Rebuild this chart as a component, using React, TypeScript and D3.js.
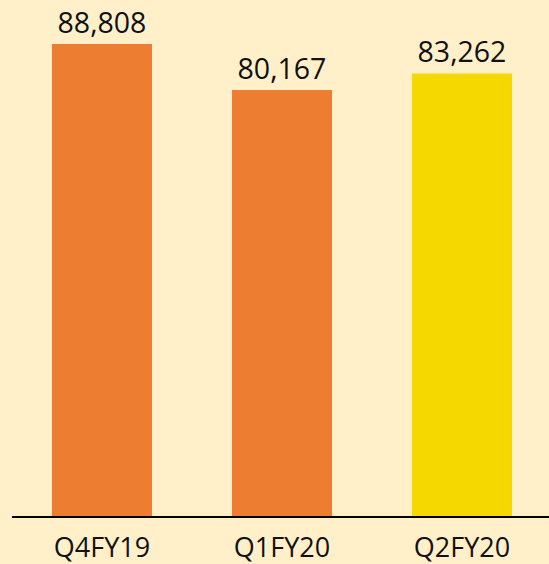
import React from "react";
import * as d3 from "d3";

const categories = ["Q4FY19", "Q1FY20", "Q2FY20"];
const values = [88808, 80167, 83262];
const barColors = ["#ED7D31", "#ED7D31", "#F5D800"];

const width = 549;
const height = 564;
const baseline = 517;

const App = () => {
  const xScale = d3
    .scaleBand<string>()
    .domain(categories)
    .range([12, 552])
    .paddingInner(4 / 9)
    .paddingOuter(2 / 9);

  const yScale = d3
    .scaleLinear()
    .domain([0, 97070])
    .range([baseline, 0]);

  const fmt = d3.format(",");

  return (
    <svg
      width={width}
      height={height}
      style={{ position: "absolute", left: 0, top: 0, display: "block" }}
      fontFamily="'Open Sans', sans-serif"
    >
      <rect width={width} height={height} fill="#FFF0C9" />
      <g>
        {categories.map((c, i) => (
          <rect
            key={c}
            x={xScale(c)}
            y={yScale(values[i])}
            width={xScale.bandwidth()}
            height={baseline - yScale(values[i])}
            fill={barColors[i]}
          />
        ))}
      </g>
      <g>
        {categories.map((c, i) => (
          <text
            key={c}
            x={Number(xScale(c)) + xScale.bandwidth() / 2}
            y={yScale(values[i]) - 11.5}
            textAnchor="middle"
            fontSize={28.5}
            fill="#111"
          >
            {fmt(values[i])}
          </text>
        ))}
      </g>
      <line x1={12} x2={width} y1={baseline} y2={baseline} stroke="#000" strokeWidth={2} />
      <g>
        {categories.map((c) => (
          <text
            key={c}
            x={Number(xScale(c)) + xScale.bandwidth() / 2}
            y={556.5}
            textAnchor="middle"
            fontSize={27}
            fill="#111"
          >
            {c}
          </text>
        ))}
      </g>
    </svg>
  );
};

export default App;
